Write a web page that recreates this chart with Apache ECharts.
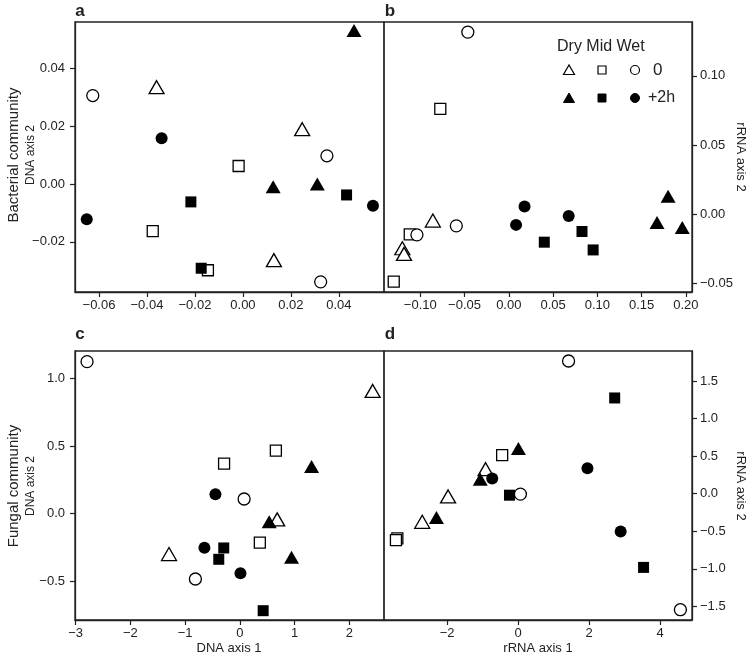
<!DOCTYPE html>
<html><head><meta charset="utf-8">
<script src="https://cdn.jsdelivr.net/npm/echarts@6/dist/echarts.min.js"></script>
<style>html,body{margin:0;padding:0;background:#fff}#c{width:752px;height:656px}</style>
</head><body><div id="c"></div><script>
// ---- Panel a: bacterial DNA ----
const aDry0 = [[-0.036,0.0334],[0.0129,-0.0263],[0.0247,0.0189]];
const aMid0 = [[-0.0018,0.0062],[-0.0376,-0.0163],[-0.0146,-0.0298]];
const aWet0 = [[-0.0626,0.0305],[0.0324,-0.0338],[0.035,0.0097]];
const aDry2 = [[0.0463,0.053],[0.0126,-0.001],[0.031,0.0]];
const aMid2 = [[-0.0217,-0.0062],[-0.0174,-0.0291],[0.0432,-0.0038]];
const aWet2 = [[-0.0339,0.0158],[-0.0651,-0.0122],[0.0542,-0.0075]];
// ---- Panel b: bacterial rRNA ----
const bDry0 = [[-0.0858,-0.0046],[-0.1203,-0.0246],[-0.1184,-0.0287]];
const bMid0 = [[-0.0774,0.0761],[-0.1119,-0.0145],[-0.130,-0.0487]];
const bWet0 = [[-0.0463,0.1316],[-0.0593,-0.0084],[-0.1038,-0.0149]];
const bDry2 = [[0.180,0.013],[0.1675,-0.006],[0.196,-0.0096]];
const bMid2 = [[0.0401,-0.0202],[0.0827,-0.0125],[0.0953,-0.0258]];
const bWet2 = [[0.0082,-0.0077],[0.0178,0.0055],[0.0677,-0.0012]];
// ---- Panel c: fungal DNA ----
const cDry0 = [[2.427,0.909],[0.683,-0.043],[-1.293,-0.300]];
const cMid0 = [[0.659,0.466],[-0.287,0.370],[0.366,-0.216]];
const cWet0 = [[-2.79,1.126],[0.079,0.108],[-0.811,-0.485]];
const cDry2 = [[1.311,0.348],[0.537,-0.060],[0.945,-0.324]];
const cMid2 = [[-0.293,-0.255],[-0.384,-0.339],[0.427,-0.720]];
const cWet2 = [[-0.445,0.143],[-0.646,-0.253],[0.012,-0.443]];
// ---- Panel d: fungal rRNA ----
const dDry0 = [[-0.916,0.326],[-1.972,-0.037],[-2.70,-0.374]];
const dMid0 = [[-0.449,0.512],[-3.40,-0.596],[-3.44,-0.618]];
const dWet0 = [[1.421,1.766],[0.065,-0.006],[4.57,-1.544]];
const dDry2 = [[0.009,0.60],[-1.065,0.193],[-2.299,-0.317]];
const dMid2 = [[2.72,1.274],[-0.243,-0.020],[3.533,-0.981]];
const dWet2 = [[-0.729,0.202],[1.953,0.339],[2.888,-0.503]];
// ---- tick values ----
const aXTicks = [-0.06,-0.04,-0.02,0,0.02,0.04];
const aYTicks = [-0.02,0,0.02,0.04];
const bXTicks = [-0.10,-0.05,0,0.05,0.10,0.15,0.20];
const bYTicks = [-0.05,0,0.05,0.10];
const cXTicks = [-3,-2,-1,0,1,2];
const cYTicks = [-0.5,0,0.5,1.0];
const dXTicks = [-2,0,2,4];
const dYTicks = [-1.5,-1.0,-0.5,0,0.5,1.0,1.5];
// ---- axis ranges ----
const aXRange = [-0.070, 0.0588], aYRange = [-0.0373, 0.0559];
const bXRange = [-0.141, 0.207],  bYRange = [-0.0562, 0.1389];
const cXRange = [-3.01, 2.634],   cYRange = [-0.789, 1.205];
const dXRange = [-3.776, 4.897],  dYRange = [-1.681, 1.899];
const legendCols = ['Dry Mid Wet'];
const legendRows = ['0', '+2h'];

const FF = '"Liberation Sans", Arial, Helvetica, sans-serif';
const INK = '#222';
function fmt(dec){ return function(v){ let s=v.toFixed(dec); if(parseFloat(s)===0) s=(0).toFixed(dec); return s.replace('-','\u2212'); }; }
function axis(kind, gi, range, ticks, dec, pos){
  return {type:'value', gridIndex:gi, min:range[0], max:range[1], position:pos,
    splitLine:{show:false},
    axisLine:{show:true, onZero:false, lineStyle:{color:INK, width:1.3}},
    axisTick:{show:true, inside:false, length:5, customValues:ticks, lineStyle:{color:INK, width:1.2}},
    axisLabel:{customValues:ticks, formatter:fmt(dec), margin: kind==='x'?7:(pos==='left'?10:8), color:INK, fontSize:13, fontFamily:FF}
  };
}
const grids = [
  {left:75, top:22, width:309, height:270},
  {left:384, top:22, width:308, height:270},
  {left:75, top:351, width:309, height:269},
  {left:384, top:351, width:308, height:269}
].map(g=>Object.assign({show:true, borderColor:INK, borderWidth:1.3, backgroundColor:'transparent'}, g));

const xAxes = [axis('x',0,aXRange,aXTicks,2,'bottom'), axis('x',1,bXRange,bXTicks,2,'bottom'),
               axis('x',2,cXRange,cXTicks,0,'bottom'), axis('x',3,dXRange,dXTicks,0,'bottom')];
const yAxes = [axis('y',0,aYRange,aYTicks,2,'left'), axis('y',1,bYRange,bYTicks,2,'right'),
               axis('y',2,cYRange,cYTicks,1,'left'), axis('y',3,dYRange,dYTicks,1,'right')];

const SYM = {Dry:'triangle', Mid:'rect', Wet:'circle'};
const SIZE = {Dry:[15,13], Mid:11, Wet:12};
function ser(name, data, gi, grp, filled){
  return {type:'scatter', name:name, xAxisIndex:gi, yAxisIndex:gi, data:data,
    symbol:SYM[grp], symbolSize:SIZE[grp], silent:true,
    itemStyle: filled ? {color:'#000', opacity:1} : {color:'#fff', borderColor:'#000', borderWidth:1.3, opacity:1}};
}
const panels = [
  [aDry0,aMid0,aWet0,aDry2,aMid2,aWet2],
  [bDry0,bMid0,bWet0,bDry2,bMid2,bWet2],
  [cDry0,cMid0,cWet0,cDry2,cMid2,cWet2],
  [dDry0,dMid0,dWet0,dDry2,dMid2,dWet2]
];
const grpNames = ['Dry','Mid','Wet','Dry','Mid','Wet'];
const series = [];
panels.forEach((arrs, gi)=>{
  arrs.forEach((d, k)=>{
    series.push(ser(grpNames[k]+(k<3?' 0':' +2h')+' '+gi, d, gi, grpNames[k], k>=3));
  });
});

function txt(x,y,t,size,rot,bold){
  return {type:'text', x:x, y:y, rotation:rot||0, silent:true,
    style:{text:t, fill:INK, font:(bold?'bold ':'')+size+'px '+FF, align:'center', verticalAlign:'middle'}};
}
const open = {fill:'#fff', stroke:'#000', lineWidth:1.2};
const full = {fill:'#000', stroke:'#000', lineWidth:1};
function tri(cx,cy,st){ return {type:'polygon', silent:true, shape:{points:[[cx-5.5,cy+4.5],[cx+5.5,cy+4.5],[cx,cy-5]]}, style:st}; }
function sq(cx,cy,st){ return {type:'rect', silent:true, shape:{x:cx-4,y:cy-4,width:8,height:8}, style:st}; }
function ci(cx,cy,st){ return {type:'circle', silent:true, shape:{cx:cx,cy:cy,r:4.5}, style:st}; }

const graphic = [
  txt(80,11,'a',17,0,true), txt(390,11,'b',17,0,true),
  txt(80,334,'c',17,0,true), txt(390,334,'d',17,0,true),
  txt(14,155,'Bacterial community',15,Math.PI/2), txt(31,155,'DNA axis 2',12,Math.PI/2),
  txt(14,486,'Fungal community',15,Math.PI/2), txt(31,486,'DNA axis 2',12,Math.PI/2),
  txt(741,157,'rRNA axis 2',13,-Math.PI/2), txt(741,486,'rRNA axis 2',13,-Math.PI/2),
  txt(229,648,'DNA axis 1',13), txt(538,648,'rRNA axis 1',13),
  {type:'text', x:557, y:47, silent:true, style:{text:legendCols[0], fill:INK, font:'16px '+FF, align:'left', verticalAlign:'middle'}},
  tri(569,70,open), sq(602,70,open), ci(635,70,open),
  {type:'text', x:653, y:70, silent:true, style:{text:legendRows[0], fill:INK, font:'17px '+FF, align:'left', verticalAlign:'middle'}},
  tri(569,98,full), sq(602,98,full), ci(635,98,full),
  {type:'text', x:648, y:98, silent:true, style:{text:legendRows[1], fill:INK, font:'16px '+FF, align:'left', verticalAlign:'middle'}}
];

const chart = echarts.init(document.getElementById('c'), null, {renderer:'canvas'});
chart.setOption({animation:false, backgroundColor:'#fff', grid:grids, xAxis:xAxes, yAxis:yAxes, series:series, graphic:graphic, tooltip:{show:false}});
</script></body></html>
